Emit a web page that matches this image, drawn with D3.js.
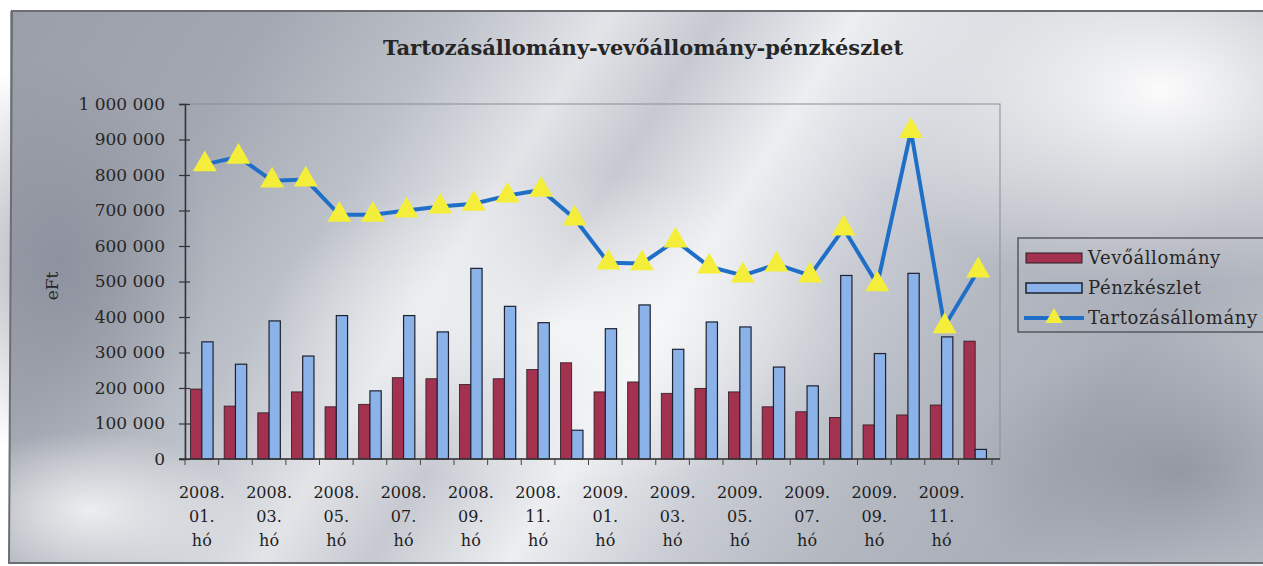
<!DOCTYPE html>
<html>
<head>
<meta charset="utf-8">
<script src="https://cdnjs.cloudflare.com/ajax/libs/d3/7.8.5/d3.min.js"></script>
<style>
  body { margin: 0; background: #fff; }
  svg { display: block; }
</style>
</head>
<body>
<script>
// havi adatok, 2008.01 - 2009.12 (eFt)
var honapok = ["2008.01.", "2008.02.", "2008.03.", "2008.04.", "2008.05.", "2008.06.",
               "2008.07.", "2008.08.", "2008.09.", "2008.10.", "2008.11.", "2008.12.",
               "2009.01.", "2009.02.", "2009.03.", "2009.04.", "2009.05.", "2009.06.",
               "2009.07.", "2009.08.", "2009.09.", "2009.10.", "2009.11.", "2009.12."];
var vevoallomany = [197000, 149000, 130000, 189000, 147000, 154000, 229000, 226000, 210000, 226000, 252000, 271000,
                    189000, 217000, 185000, 199000, 189000, 147000, 133000, 117000, 96000, 124000, 152000, 332000];
var penzkeszlet = [330000, 267000, 389000, 290000, 404000, 192000, 404000, 358000, 537000, 430000, 384000, 81000,
                   367000, 434000, 309000, 386000, 372000, 259000, 206000, 517000, 297000, 523000, 344000, 27000];
var tartozasallomany = [830000, 851000, 784000, 787000, 688000, 688000, 700000, 711000, 719000, 742000, 758000, 677000,
                        553000, 551000, 615000, 542000, 517000, 548000, 517000, 649000, 492000, 924000, 374000, 531000];
var yTicks = [0, 100000, 200000, 300000, 400000, 500000, 600000, 700000, 800000, 900000, 1000000];
var sorozatok = ["Vevőállomány", "Pénzkészlet", "Tartozásállomány"];

var W = 1263, H = 566;
var pLeft = 185, pRight = 992, pTop = 104, pBottom = 459;
var serif = "'DejaVu Serif', 'Liberation Serif', serif";

var svg = d3.select("body").append("svg")
    .attr("width", W)
    .attr("height", H);

var defs = svg.append("defs");

// fémes szürke háttér
var bg = defs.append("linearGradient")
    .attr("id", "bg")
    .attr("gradientUnits", "userSpaceOnUse")
    .attr("x1", 0).attr("y1", 0).attr("x2", 1100).attr("y2", 700);
[[0, "#9a9ea9"], [0.18, "#a3a7b1"], [0.3, "#bcc0c8"], [0.4, "#e2e4e8"], [0.47, "#c6c9d0"],
 [0.56, "#eceef1"], [0.66, "#c9ccd3"], [0.76, "#b4b8c1"], [0.88, "#aaaeb8"], [1, "#bcc0c8"]]
  .forEach(function(s) {
    bg.append("stop").attr("offset", s[0]).attr("stop-color", s[1]);
  });

var hl = defs.append("radialGradient").attr("id", "hl");
hl.append("stop").attr("offset", 0).attr("stop-color", "#fff").attr("stop-opacity", 0.95);
hl.append("stop").attr("offset", 1).attr("stop-color", "#fff").attr("stop-opacity", 0);

var hl2 = defs.append("radialGradient").attr("id", "hl2");
hl2.append("stop").attr("offset", 0).attr("stop-color", "#fff").attr("stop-opacity", 0.75);
hl2.append("stop").attr("offset", 1).attr("stop-color", "#fff").attr("stop-opacity", 0);

var dk = defs.append("radialGradient").attr("id", "dk");
dk.append("stop").attr("offset", 0).attr("stop-color", "#858a97").attr("stop-opacity", 0.7);
dk.append("stop").attr("offset", 1).attr("stop-color", "#858a97").attr("stop-opacity", 0);

svg.append("rect")
    .attr("x", 10).attr("y", 11)
    .attr("width", W).attr("height", 552)
    .attr("fill", "url(#bg)");
svg.append("ellipse")
    .attr("cx", 1160).attr("cy", 90).attr("rx", 320).attr("ry", 200)
    .attr("fill", "url(#hl)");
svg.append("ellipse")
    .attr("cx", 560).attr("cy", 330).attr("rx", 300).attr("ry", 160)
    .attr("fill", "url(#hl2)");
svg.append("ellipse")
    .attr("cx", 90).attr("cy", 510).attr("rx", 150).attr("ry", 80)
    .attr("fill", "url(#hl2)");
svg.append("ellipse")
    .attr("cx", 60).attr("cy", 260).attr("rx", 150).attr("ry", 200)
    .attr("fill", "url(#dk)");
svg.append("ellipse")
    .attr("cx", 1180).attr("cy", 470).attr("rx", 220).attr("ry", 130)
    .attr("fill", "url(#dk)");

// külső keret
svg.append("path")
    .attr("d", "M" + (W + 2) + ",11 L12,11 L9,563 L" + (W + 2) + ",563")
    .attr("fill", "none")
    .attr("stroke", "#6b6e75")
    .attr("stroke-width", 2);

// cím
svg.append("text")
    .attr("x", 643).attr("y", 55)
    .attr("text-anchor", "middle")
    .attr("font-family", serif)
    .attr("font-weight", "bold")
    .attr("font-size", 21)
    .attr("fill", "#262626")
    .text("Tartozásállomány-vevőállomány-pénzkészlet");

// skálák
var x = d3.scaleBand()
    .domain(honapok)
    .range([pLeft, pRight])
    .paddingInner(0.33)
    .paddingOuter(0.165);

var xSub = d3.scaleBand()
    .domain([0, 1])
    .range([0, x.bandwidth()]);

var y = d3.scaleLinear()
    .domain([0, 1000000])
    .range([pBottom, pTop]);

// rajzterület kerete
svg.append("rect")
    .attr("x", pLeft).attr("y", pTop)
    .attr("width", 1000 - pLeft).attr("height", pBottom - pTop)
    .attr("fill", "none")
    .attr("stroke", "#8a8d94")
    .attr("stroke-width", 1);

// oszlopok
var csoport = svg.append("g")
    .selectAll("g")
    .data(honapok)
    .enter()
    .append("g")
    .attr("transform", function(d) { return "translate(" + x(d) + ",0)"; });

csoport.append("rect")
    .attr("x", xSub(0))
    .attr("width", xSub.bandwidth())
    .attr("y", function(d, i) { return y(vevoallomany[i]); })
    .attr("height", function(d, i) { return y(0) - y(vevoallomany[i]); })
    .attr("fill", "#a33150")
    .attr("stroke", "#2a1a20")
    .attr("stroke-width", 0.8);

csoport.append("rect")
    .attr("x", xSub(1))
    .attr("width", xSub.bandwidth())
    .attr("y", function(d, i) { return y(penzkeszlet[i]); })
    .attr("height", function(d, i) { return y(0) - y(penzkeszlet[i]); })
    .attr("fill", "#8cb2ea")
    .attr("stroke", "#1d2230")
    .attr("stroke-width", 1.2);

// tengelyek
var yAxis = svg.append("g")
    .attr("transform", "translate(" + pLeft + ",0)")
    .call(d3.axisLeft(y)
      .tickValues(yTicks)
      .tickSize(6)
      .tickPadding(14)
      .tickFormat(function(d) { return d3.format(",")(d).replace(/,/g, " "); }));
yAxis.select(".domain").attr("stroke", "#333").attr("stroke-width", 1.5);
yAxis.selectAll(".tick line").attr("x1", 5).attr("stroke", "#333").attr("stroke-width", 1.2);
yAxis.selectAll(".tick text")
    .attr("font-family", serif)
    .attr("font-size", 17)
    .attr("fill", "#262626");

svg.append("line")
    .attr("x1", pLeft - 6).attr("x2", 1000)
    .attr("y1", pBottom).attr("y2", pBottom)
    .attr("stroke", "#333")
    .attr("stroke-width", 1.5);

svg.append("g")
    .selectAll("line")
    .data(d3.range(honapok.length + 1))
    .enter()
    .append("line")
    .attr("x1", function(i) { return pLeft + i * x.step(); })
    .attr("x2", function(i) { return pLeft + i * x.step(); })
    .attr("y1", pBottom)
    .attr("y2", pBottom + 6)
    .attr("stroke", "#444")
    .attr("stroke-width", 1);

// x feliratok minden második hónapnál
var cimkek = svg.append("g")
    .selectAll("text")
    .data(honapok.filter(function(d, i) { return i % 2 === 0; }))
    .enter()
    .append("text")
    .attr("font-family", serif)
    .attr("font-size", 16)
    .attr("fill", "#1e1e1e")
    .attr("text-anchor", "middle");

cimkek.each(function(d) {
  var t = d3.select(this);
  var cx = x(d) + x.bandwidth() / 2;
  var sorok = [d.slice(0, 5), d.slice(5), "hó"];
  sorok.forEach(function(s, k) {
    t.append("tspan")
      .attr("x", cx)
      .attr("y", 498 + k * 24)
      .text(s);
  });
});

// y tengely címe
svg.append("text")
    .attr("transform", "translate(58,286) rotate(-90)")
    .attr("text-anchor", "middle")
    .attr("font-family", serif)
    .attr("font-size", 17)
    .attr("fill", "#262626")
    .text("eFt");

// vonal
var vonal = d3.line()
    .x(function(d, i) { return x(honapok[i]) + x.bandwidth() / 2 + 3; })
    .y(function(d) { return y(d); });

svg.append("path")
    .datum(tartozasallomany)
    .attr("d", vonal)
    .attr("fill", "none")
    .attr("stroke", "#1f6fc8")
    .attr("stroke-width", 4);

var haromszog = d3.symbol().type(d3.symbolTriangle).size(250);

svg.append("g")
    .selectAll("path")
    .data(tartozasallomany)
    .enter()
    .append("path")
    .attr("d", haromszog)
    .attr("transform", function(d, i) {
      return "translate(" + (x(honapok[i]) + x.bandwidth() / 2 + 3) + "," + y(d) + ")";
    })
    .attr("fill", "#f4ee3a");

// jelmagyarázat
var leg = svg.append("g").attr("transform", "translate(1018,238)");
leg.append("rect")
    .attr("width", 260).attr("height", 94)
    .attr("fill", "none")
    .attr("stroke", "#55585e")
    .attr("stroke-width", 1.5);

var legY = [20, 50, 80];
leg.append("rect")
    .attr("x", 8).attr("y", legY[0] - 5).attr("width", 56).attr("height", 10)
    .attr("fill", "#a33150").attr("stroke", "#2a1a20").attr("stroke-width", 1);
leg.append("rect")
    .attr("x", 8).attr("y", legY[1] - 5).attr("width", 56).attr("height", 10)
    .attr("fill", "#8cb2ea").attr("stroke", "#1d2230").attr("stroke-width", 1.5);
leg.append("line")
    .attr("x1", 6).attr("x2", 66).attr("y1", legY[2]).attr("y2", legY[2])
    .attr("stroke", "#1f6fc8").attr("stroke-width", 4);
leg.append("path")
    .attr("d", d3.symbol().type(d3.symbolTriangle).size(130))
    .attr("transform", "translate(36," + legY[2] + ")")
    .attr("fill", "#f4ee3a");

leg.selectAll("text.lt")
    .data(sorozatok)
    .enter()
    .append("text")
    .attr("class", "lt")
    .attr("x", 70)
    .attr("y", function(d, i) { return legY[i] + 6; })
    .attr("font-family", serif)
    .attr("font-size", 18)
    .attr("letter-spacing", 0.6)
    .attr("fill", "#262626")
    .text(function(d) { return d; });
</script>
</body>
</html>
